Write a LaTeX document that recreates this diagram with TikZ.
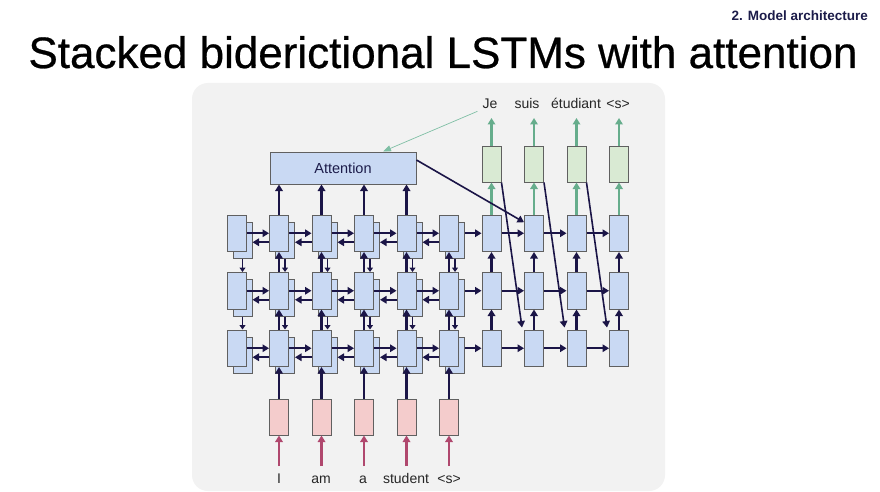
\documentclass[tikz,border=0pt]{standalone}
\usepackage{fontspec}
\setmainfont{Liberation Sans}
\newfontfamily\titlefont[FakeBold=0.6]{Liberation Sans}
\usetikzlibrary{arrows.meta,calc}
\definecolor{panelgray}{HTML}{F2F2F2}
\definecolor{cellblue}{HTML}{C9D9F3}
\definecolor{cellgreen}{HTML}{D9EAD3}
\definecolor{cellpink}{HTML}{F4CCCC}
\definecolor{cellborder}{HTML}{606060}
\definecolor{navy}{HTML}{1B1547}
\definecolor{arrgreen}{HTML}{66AD8C}
\definecolor{thingreen}{HTML}{7FBFA5}
\definecolor{arrpink}{HTML}{B0486E}
\definecolor{headnavy}{HTML}{1C1C4A}
\definecolor{labelgray}{HTML}{262626}
\begin{document}
\begin{tikzpicture}[x=1pt,y=-1pt,
  cell/.style={draw=cellborder, line width=1pt, minimum width=19pt, minimum height=36.5pt, inner sep=0pt},
  bcell/.style={cell, fill=cellblue},
  gcell/.style={cell, fill=cellgreen, minimum height=36pt},
  pcell/.style={cell, fill=cellpink, minimum height=36pt},
  attbox/.style={draw=cellborder, line width=1pt, fill=cellblue, minimum width=146pt, minimum height=32pt, inner sep=0pt, font=\fontsize{14.5}{17}\selectfont, text=headnavy},
  darr/.style={draw=navy, line width=2.2pt, -{Triangle[length=6.5pt,width=7.5pt]}},
  garr/.style={draw=arrgreen, line width=2.2pt, -{Triangle[length=6.5pt,width=7.5pt]}},
  parr/.style={draw=arrpink, line width=2.2pt, -{Triangle[length=6.5pt,width=7.5pt]}},
  thinarr/.style={draw=thingreen, line width=0.7pt, -{Triangle[length=8pt,width=6pt]}},
  lbl/.style={font=\fontsize{14}{16}\selectfont, text=labelgray, inner sep=0pt, anchor=base}
]
\useasboundingbox (0,0) rectangle (880,492);
\fill[white] (0,0) rectangle (880,492);
\fill[panelgray, rounded corners=16pt] (192,83) rectangle (665,491);

% headings
\node[font=\titlefont\fontsize{44}{50}\selectfont, anchor=base, inner sep=0pt] (title) at (443,68) {Stacked biderictional LSTMs with attention};
\node[font=\fontsize{13.5}{16}\selectfont\bfseries, text=headnavy, anchor=base east, inner sep=0pt] (section) at (868,21) {2. Model architecture};

% cells
\foreach \r/\yy in {1/233.25,2/290.75,3/348.25}{
  \foreach \i in {0,...,5}{
    \pgfmathsetmacro{\cx}{236.5+42.5*\i}
    \node[bcell] (b-\r-\i) at (\cx+6,\yy+7) {};
    \node[bcell] (e-\r-\i) at (\cx,\yy) {};
  }
  \foreach \i in {6,...,9}{
    \pgfmathsetmacro{\cx}{236.5+42.5*\i}
    \node[bcell] (d-\r-\i) at (\cx,\yy) {};
  }
}
\foreach \i in {6,...,9}{
  \pgfmathsetmacro{\cx}{236.5+42.5*\i}
  \node[gcell] (g-\i) at (\cx,164) {};
  \coordinate (out-\i) at (\cx,118);
}
\foreach \i in {1,...,5}{
  \pgfmathsetmacro{\cx}{236.5+42.5*\i}
  \node[pcell] (p-\i) at (\cx,417) {};
  \coordinate (pin-\i) at (\cx,466);
}
\node[attbox] (att) at (343,168) {Attention};

% labels
\foreach \n/\xx/\w in {6/490/Je,7/527/suis,8/576/étudiant,9/618/<s>}{
  \node[lbl] (o-\n) at (\xx,109) {\w};
}
\foreach \n/\xx/\w in {1/279/I,2/321/am,3/363/a,4/406/student,5/449/<s>}{
  \node[lbl] (w-\n) at (\xx,483) {\w};
}

% encoder horizontal arrows
\foreach \r in {1,2,3}{
  \foreach \i in {0,...,4}{
    \pgfmathtruncatemacro{\j}{\i+1}
    \draw[darr] (e-\r-\i.east) -- (e-\r-\j.west);
    \draw[darr] ([yshift=-9pt]e-\r-\j.west) -- ([yshift=-2pt]b-\r-\i.east);
  }
  \draw[darr] (e-\r-5.east -| b-\r-5.east) -- (d-\r-6.west);
  \foreach \i in {6,7,8}{
    \pgfmathtruncatemacro{\j}{\i+1}
    \draw[darr] (d-\r-\i.east) -- (d-\r-\j.west);
  }
}

% encoder vertical arrows
\foreach \r in {1,2}{
  \pgfmathtruncatemacro{\s}{\r+1}
  \foreach \i in {1,...,5}{
    \draw[darr] (e-\s-\i.north) -- (e-\r-\i.south);
  }
  \foreach \i in {0,...,5}{
    \draw[darr, line width=1.8pt, -{Triangle[length=4.5pt,width=6pt]}] (b-\r-\i.south) -- (b-\r-\i.south |- e-\s-\i.north);
  }
}

% inputs
\foreach \i in {1,...,5}{
  \draw[parr] (pin-\i) -- (p-\i.south);
  \draw[darr] (p-\i.north) -- (e-3-\i.south);
}

% to attention
\foreach \i in {1,...,4}{
  \draw[darr] (e-1-\i.north) -- (e-1-\i.north |- att.south);
}

% decoder verticals
\foreach \i in {6,...,9}{
  \draw[darr] (d-3-\i.north) -- (d-2-\i.south);
  \draw[darr] (d-2-\i.north) -- (d-1-\i.south);
  \draw[garr] (d-1-\i.north) -- (g-\i.south);
  \draw[garr] (g-\i.north) -- (out-\i);
}

% input feeding diagonals
\foreach \i in {6,7,8}{
  \pgfmathtruncatemacro{\j}{\i+1}
  \draw[darr, line width=1.6pt] (g-\i.south east) -- ([xshift=-2pt,yshift=2pt]d-3-\j.north west);
}

% attention to decoder
\draw[darr, line width=1.6pt] ([yshift=8pt]att.east) -- ([yshift=11pt]d-1-7.west);
% thin green line
\draw[thinarr] ([xshift=-5pt,yshift=-2pt]o-6.south west) -- ([xshift=40pt]att.north);

\end{tikzpicture}
\end{document}
